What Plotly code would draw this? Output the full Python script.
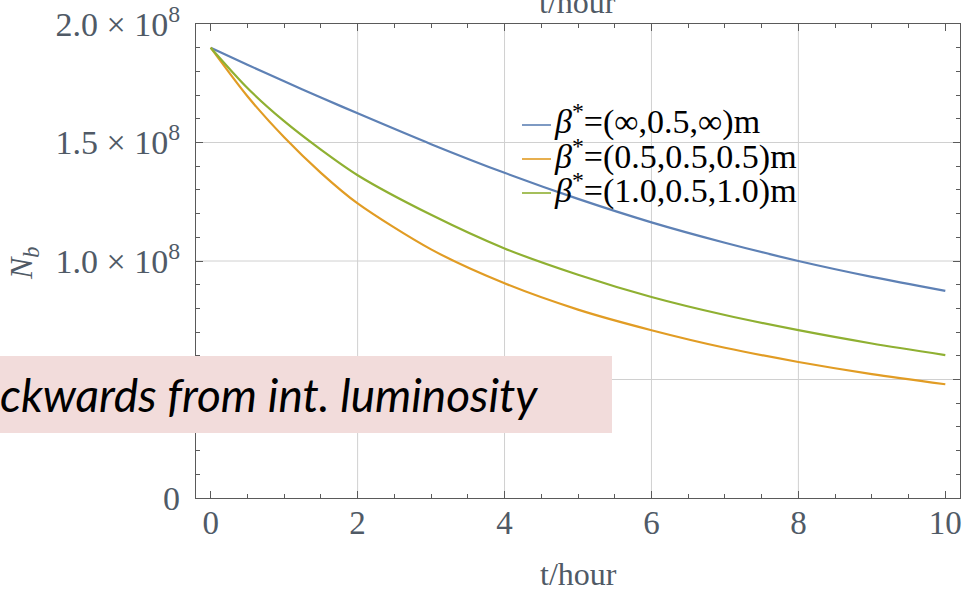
import plotly.graph_objects as go

# Bunch population N_b versus time for three beta* configurations
t_hour = [0, 0.5, 1, 1.5, 2, 3, 4, 5, 6, 7, 8, 9, 10]
nb_inf = [1.900e8, 1.828e8, 1.758e8, 1.690e8, 1.623e8, 1.493e8, 1.372e8,
          1.262e8, 1.163e8, 1.077e8, 1.000e8, 0.933e8, 0.874e8]
nb_05 = [1.900e8, 1.695e8, 1.522e8, 1.372e8, 1.243e8, 1.049e8, 0.906e8,
         0.795e8, 0.708e8, 0.634e8, 0.574e8, 0.523e8, 0.480e8]
nb_10 = [1.900e8, 1.730e8, 1.590e8, 1.470e8, 1.362e8, 1.195e8, 1.053e8,
         0.942e8, 0.848e8, 0.772e8, 0.708e8, 0.652e8, 0.603e8]

series_names = ["<i>β</i><sup>*</sup>=(∞,0.5,∞)m",
                "<i>β</i><sup>*</sup>=(0.5,0.5,0.5)m",
                "<i>β</i><sup>*</sup>=(1.0,0.5,1.0)m"]
series_values = [nb_inf, nb_05, nb_10]
series_colors = ["#5E81B5", "#E19C24", "#8FB032"]

x_ticks = [0, 2, 4, 6, 8, 10]
x_ticktext = ["0", "2", "4", "6", "8", "10"]
# the 5e7 label sits under the note box, so it is left blank
y_ticks = [0, 0.5e8, 1.0e8, 1.5e8, 2.0e8]
y_ticktext = ["0", "", "1.0 × 10<sup>8</sup>",
              "1.5 × 10<sup>8</sup>", "2.0 × 10<sup>8</sup>"]
x_grid = [2, 4, 6, 8]
y_grid = [0.5e8, 1.0e8, 1.5e8]

note_text = "<i>ckwards from int. luminosity</i>"

X_RANGE = [-0.2, 10.2]
Y_RANGE = [0, 2.0e8]

W, H = 980, 591
ML, MR, MT, MB = 196, 20, 24, 93
PW, PH = W - ML - MR, H - MT - MB


def px_x(px):
    return (px - ML) / PW


def px_y(py):
    return (H - MB - py) / PH


LABEL_COLOR = "#505a66"
FRAME_COLOR = "#5a5a5a"
SERIF = "Liberation Serif"

fig = go.Figure()
for name, vals, col in zip(series_names, series_values, series_colors):
    fig.add_trace(go.Scatter(x=t_hour, y=vals, mode="lines", name=name,
                             line=dict(color=col, width=2.2, shape="spline", smoothing=0.8),
                             showlegend=False))

shapes = []
for gx in x_grid:
    shapes.append(dict(type="line", xref="x", yref="y", x0=gx, x1=gx,
                       y0=Y_RANGE[0], y1=Y_RANGE[1], layer="below",
                       line=dict(color="#d0d0d0", width=1)))
for gy in y_grid:
    shapes.append(dict(type="line", xref="x", yref="y", x0=X_RANGE[0], x1=X_RANGE[1],
                       y0=gy, y1=gy, layer="below",
                       line=dict(color="#d0d0d0", width=1)))

# legend: short line samples with labels
legend_rows = [125, 159, 193]
annotations = []
for row, name, col in zip(legend_rows, series_names, series_colors):
    shapes.append(dict(type="line", xref="paper", yref="paper",
                       x0=px_x(522), x1=px_x(551), y0=px_y(row), y1=px_y(row),
                       line=dict(color=col, width=1.6), layer="above"))
    annotations.append(dict(xref="paper", yref="paper", x=px_x(552), y=px_y(row - 5),
                            xanchor="left", yanchor="middle", showarrow=False,
                            text=name, font=dict(family=SERIF, size=34, color="#000000")))

# highlighted note box
shapes.append(dict(type="rect", xref="paper", yref="paper",
                   x0=px_x(-5), x1=px_x(612), y0=px_y(433), y1=px_y(356),
                   fillcolor="#f2dcdb", line=dict(width=0), layer="above"))
annotations.append(dict(xref="paper", yref="paper", x=px_x(-2), y=px_y(394),
                        xanchor="left", yanchor="middle", showarrow=False,
                        text=note_text,
                        font=dict(family="Lato", size=46, color="#000000")))

# axis labels
annotations.append(dict(xref="paper", yref="paper", x=px_x(578), y=px_y(574),
                        xanchor="center", yanchor="middle", showarrow=False,
                        text="t/hour", font=dict(family=SERIF, size=32, color=LABEL_COLOR)))
annotations.append(dict(xref="paper", yref="paper", x=px_x(577), y=px_y(22),
                        xanchor="center", yanchor="bottom", showarrow=False,
                        text="t/hour", font=dict(family=SERIF, size=32, color=LABEL_COLOR)))
annotations.append(dict(xref="paper", yref="paper", x=px_x(23), y=px_y(263),
                        xanchor="center", yanchor="middle", showarrow=False, textangle=-90,
                        text="<i>N<sub>b</sub></i>",
                        font=dict(family=SERIF, size=32, color=LABEL_COLOR)))

fig.update_layout(
    width=W, height=H,
    margin=dict(l=ML, r=MR, t=MT, b=MB, pad=0, autoexpand=False),
    paper_bgcolor="white", plot_bgcolor="white",
    shapes=shapes, annotations=annotations,
)
fig.update_xaxes(range=X_RANGE, tickvals=x_ticks, ticktext=x_ticktext, automargin=False,
                 showgrid=False, zeroline=False, showline=True, linecolor=FRAME_COLOR,
                 linewidth=1.3, mirror="ticks", ticks="inside", ticklen=7, tickwidth=1.2,
                 tickcolor=FRAME_COLOR, ticklabelstandoff=-5,
                 tickfont=dict(family=SERIF, size=33, color=LABEL_COLOR),
                 minor=dict(dtick=0.5, tick0=0, ticks="inside", ticklen=4, tickwidth=1,
                            tickcolor=FRAME_COLOR, showgrid=False))
fig.update_yaxes(range=Y_RANGE, tickvals=y_ticks, ticktext=y_ticktext, automargin=False,
                 showgrid=False, zeroline=False, showline=True, linecolor=FRAME_COLOR,
                 linewidth=1.3, mirror="ticks", ticks="inside", ticklen=7, tickwidth=1.2,
                 tickcolor=FRAME_COLOR, ticklabelstandoff=8,
                 tickfont=dict(family=SERIF, size=34, color=LABEL_COLOR),
                 minor=dict(dtick=0.1e8, tick0=0, ticks="inside", ticklen=4, tickwidth=1,
                            tickcolor=FRAME_COLOR, showgrid=False))

fig.write_html("out.html")
